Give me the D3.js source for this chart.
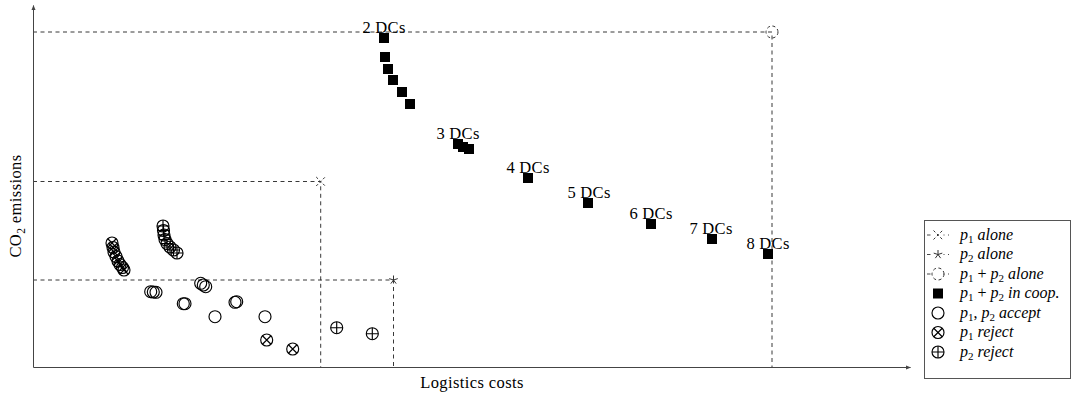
<!DOCTYPE html>
<html><head><meta charset="utf-8">
<script src="https://cdn.jsdelivr.net/npm/d3@7"></script>
<style>
html,body{margin:0;padding:0;background:#fff;}
text{font-family:"Liberation Serif","DejaVu Serif",serif;fill:#000;}
</style></head>
<body>
<svg id="c" width="1072" height="394"></svg>
<script>
// ---- data (units; arbitrary cost / emission units) ----
const coopX = [351, 352, 355, 360, 369, 377, 425, 430, 436, 495, 555, 618, 679, 735];
const coopY = [329, 310, 298, 287, 275, 263, 223, 220, 218, 189, 164, 143, 128, 113];
const dcLabels = ["2 DCs", "3 DCs", "4 DCs", "5 DCs", "6 DCs", "7 DCs", "8 DCs"];
const dcLabelIdx = [0, 6, 9, 10, 11, 12, 13];
const dcLabelX = [351, 425, 495, 556, 618, 678, 735];

const acceptX = [117.7, 120.3, 123, 167.7, 170.3, 172.7, 150.3, 152, 182, 202, 203.7, 232];
const acceptY = [75.3, 75, 74.7, 83.7, 82, 80.3, 63.3, 63.3, 50.3, 64.7, 65.3, 50.3];

const p1RejectX = [79, 80, 81, 83, 85, 87, 89.5, 91, 233.7, 259.7];
const p1RejectY = [124, 119.5, 115, 110.5, 106, 102.5, 99.5, 97, 27, 18];

const p2RejectX = [130, 130.5, 131, 132, 134, 137, 140.5, 144, 303.7, 339.3];
const p2RejectY = [141, 136.5, 132, 127.5, 123.5, 120, 117, 114, 39.3, 33.3];

const p1AloneX = [287.7], p1AloneY = [185.5];
const p2AloneX = [360.5], p2AloneY = [87];
const bothAloneX = [739], bothAloneY = [335];

const legendLabels = [
  [["p","i"],["1","sub"],[" alone","i"]],
  [["p","i"],["2","sub"],[" alone","i"]],
  [["p","i"],["1","sub"],[" + ","r"],["p","i"],["2","sub"],[" alone","i"]],
  [["p","i"],["1","sub"],[" + ","r"],["p","i"],["2","sub"],[" in coop.","i"]],
  [["p","i"],["1","sub"],[", ","r"],["p","i"],["2","sub"],[" accept","i"]],
  [["p","i"],["1","sub"],[" reject","i"]],
  [["p","i"],["2","sub"],[" reject","i"]]
];
const legendMarkers = ["x", "star", "dcircle", "square", "circle", "otimes", "oplus"];
const legendDashed = [true, true, true, false, false, false, false];

// ---- drawing ----
const svg = d3.select("#c");
const x = d3.scaleLinear().domain([0, 877]).range([33, 910]);
const y = d3.scaleLinear().domain([0, 362]).range([367, 5]);

const defs = svg.append("defs");
defs.append("marker").attr("id","arr").attr("viewBox","0 0 10 10").attr("refX",9).attr("refY",5)
  .attr("markerWidth",5).attr("markerHeight",5).attr("orient","auto-start-reverse")
  .append("path").attr("d","M0,1 L10,5 L0,9 Z").attr("fill","#444");

const DASH = "4,3.5";
const ink = "#222";

function refLines(px, py){
  svg.append("path")
    .attr("d", `M${x(0)},${y(py)}H${x(px)}V${y(0)}`)
    .attr("fill","none").attr("stroke",ink).attr("stroke-width",0.9).attr("stroke-dasharray",DASH);
}
refLines(p1AloneX[0], p1AloneY[0]);
refLines(p2AloneX[0], p2AloneY[0]);
refLines(bothAloneX[0], bothAloneY[0]);

const gx = svg.append("g").attr("transform",`translate(0,${y(0)})`)
  .call(d3.axisBottom(x).tickValues([]).tickSizeOuter(0));
gx.select(".domain").attr("stroke","#444").attr("stroke-width",1).attr("marker-end","url(#arr)");
const gy = svg.append("g").attr("transform",`translate(${x(0)},0)`)
  .call(d3.axisLeft(y).tickValues([]).tickSizeOuter(0));
gy.select(".domain").attr("stroke","#444").attr("stroke-width",1).attr("marker-end","url(#arr)");

svg.append("text").attr("x",472).attr("y",388).attr("text-anchor","middle")
  .attr("font-size",16.5).attr("letter-spacing",0.4).text("Logistics costs");
const yl = svg.append("text").attr("transform","translate(21,206) rotate(-90)")
  .attr("text-anchor","middle").attr("font-size",16.5).attr("letter-spacing",0.4);
yl.append("tspan").text("CO");
yl.append("tspan").attr("font-size",11.5).attr("dy",4).text("2");
yl.append("tspan").attr("dy",-4).text(" emissions");

function marker(g, type, cx, cy){
  const s = g.append("g").attr("transform",`translate(${cx},${cy})`)
    .attr("fill","none").attr("stroke","#000").attr("stroke-width",1.15);
  const r = 6;
  if(type==="x"){
    const a=4.5;
    s.append("path").attr("d",`M${-a},${-a}L${a},${a}M${-a},${a}L${a},${-a}`)
      .attr("stroke-dasharray","2.6,2.2").attr("stroke","#333").attr("stroke-width",1);
  } else if(type==="star"){
    let d="";
    for(let k=0;k<5;k++){const t=-Math.PI/2+k*2*Math.PI/5; d+=`M0,0L${4.5*Math.cos(t)},${4.5*Math.sin(t)}`;}
    s.append("path").attr("d",d).attr("stroke","#333").attr("stroke-width",1);
  } else if(type==="dcircle"){
    s.append("circle").attr("r",r).attr("stroke-dasharray","3,2.6").attr("stroke","#333").attr("stroke-width",1);
  } else if(type==="square"){
    s.append("rect").attr("x",-5).attr("y",-5).attr("width",10).attr("height",10)
      .attr("fill","#000").attr("stroke","none");
  } else if(type==="circle"){
    s.append("circle").attr("r",r);
  } else if(type==="otimes"){
    s.append("circle").attr("r",r);
    const a=r*0.7071;
    s.append("path").attr("d",`M${-a},${-a}L${a},${a}M${-a},${a}L${a},${-a}`);
  } else if(type==="oplus"){
    s.append("circle").attr("r",r);
    s.append("path").attr("d",`M${-r},0H${r}M0,${-r}V${r}`);
  }
  return s;
}

const marks = svg.append("g");
function series(xs, ys, type){
  xs.forEach((v,i)=>marker(marks, type, x(v), y(ys[i])));
}
series(acceptX, acceptY, "circle");
series(p1RejectX, p1RejectY, "otimes");
series(p2RejectX, p2RejectY, "oplus");
series(p1AloneX, p1AloneY, "x");
series(p2AloneX, p2AloneY, "star");
series(bothAloneX, bothAloneY, "dcircle");
series(coopX, coopY, "square");

dcLabels.forEach((t,i)=>{
  const j = dcLabelIdx[i];
  svg.append("text").attr("x",x(dcLabelX[i])).attr("y",y(coopY[j])-5.5)
    .attr("text-anchor","middle").attr("font-size",16.5).attr("letter-spacing",0.3).text(t);
});

const lg = svg.append("g");
lg.append("rect").attr("x",924.5).attr("y",220.5).attr("width",146).attr("height",158)
  .attr("fill","#fff").attr("stroke","#555").attr("stroke-width",1);
legendLabels.forEach((parts,i)=>{
  const cy = 235 + i*19.5;
  if(legendDashed[i]){
    lg.append("path").attr("d",`M927,${cy}H949`).attr("stroke","#333").attr("stroke-width",0.9)
      .attr("stroke-dasharray","3.5,3.5");
  }
  const m = marker(lg, legendMarkers[i], 938, cy);
  if(legendDashed[i]) m.insert("rect",":first-child").attr("x",-5.5).attr("y",-6.5).attr("width",11).attr("height",13).attr("fill","#fff").attr("stroke","none");
  const t = lg.append("text").attr("x",960).attr("y",cy+4.5).attr("font-size",16);
  let sub=false;
  parts.forEach(([s,k])=>{
    const ts = t.append("tspan").text(s).attr("xml:space","preserve");
    if(k==="i") ts.attr("font-style","italic");
    if(k==="sub"){ ts.attr("font-size",11).attr("dy",3); sub=true; }
    else if(sub){ ts.attr("dy",-3); sub=false; }
  });
});
</script>
</body></html>
